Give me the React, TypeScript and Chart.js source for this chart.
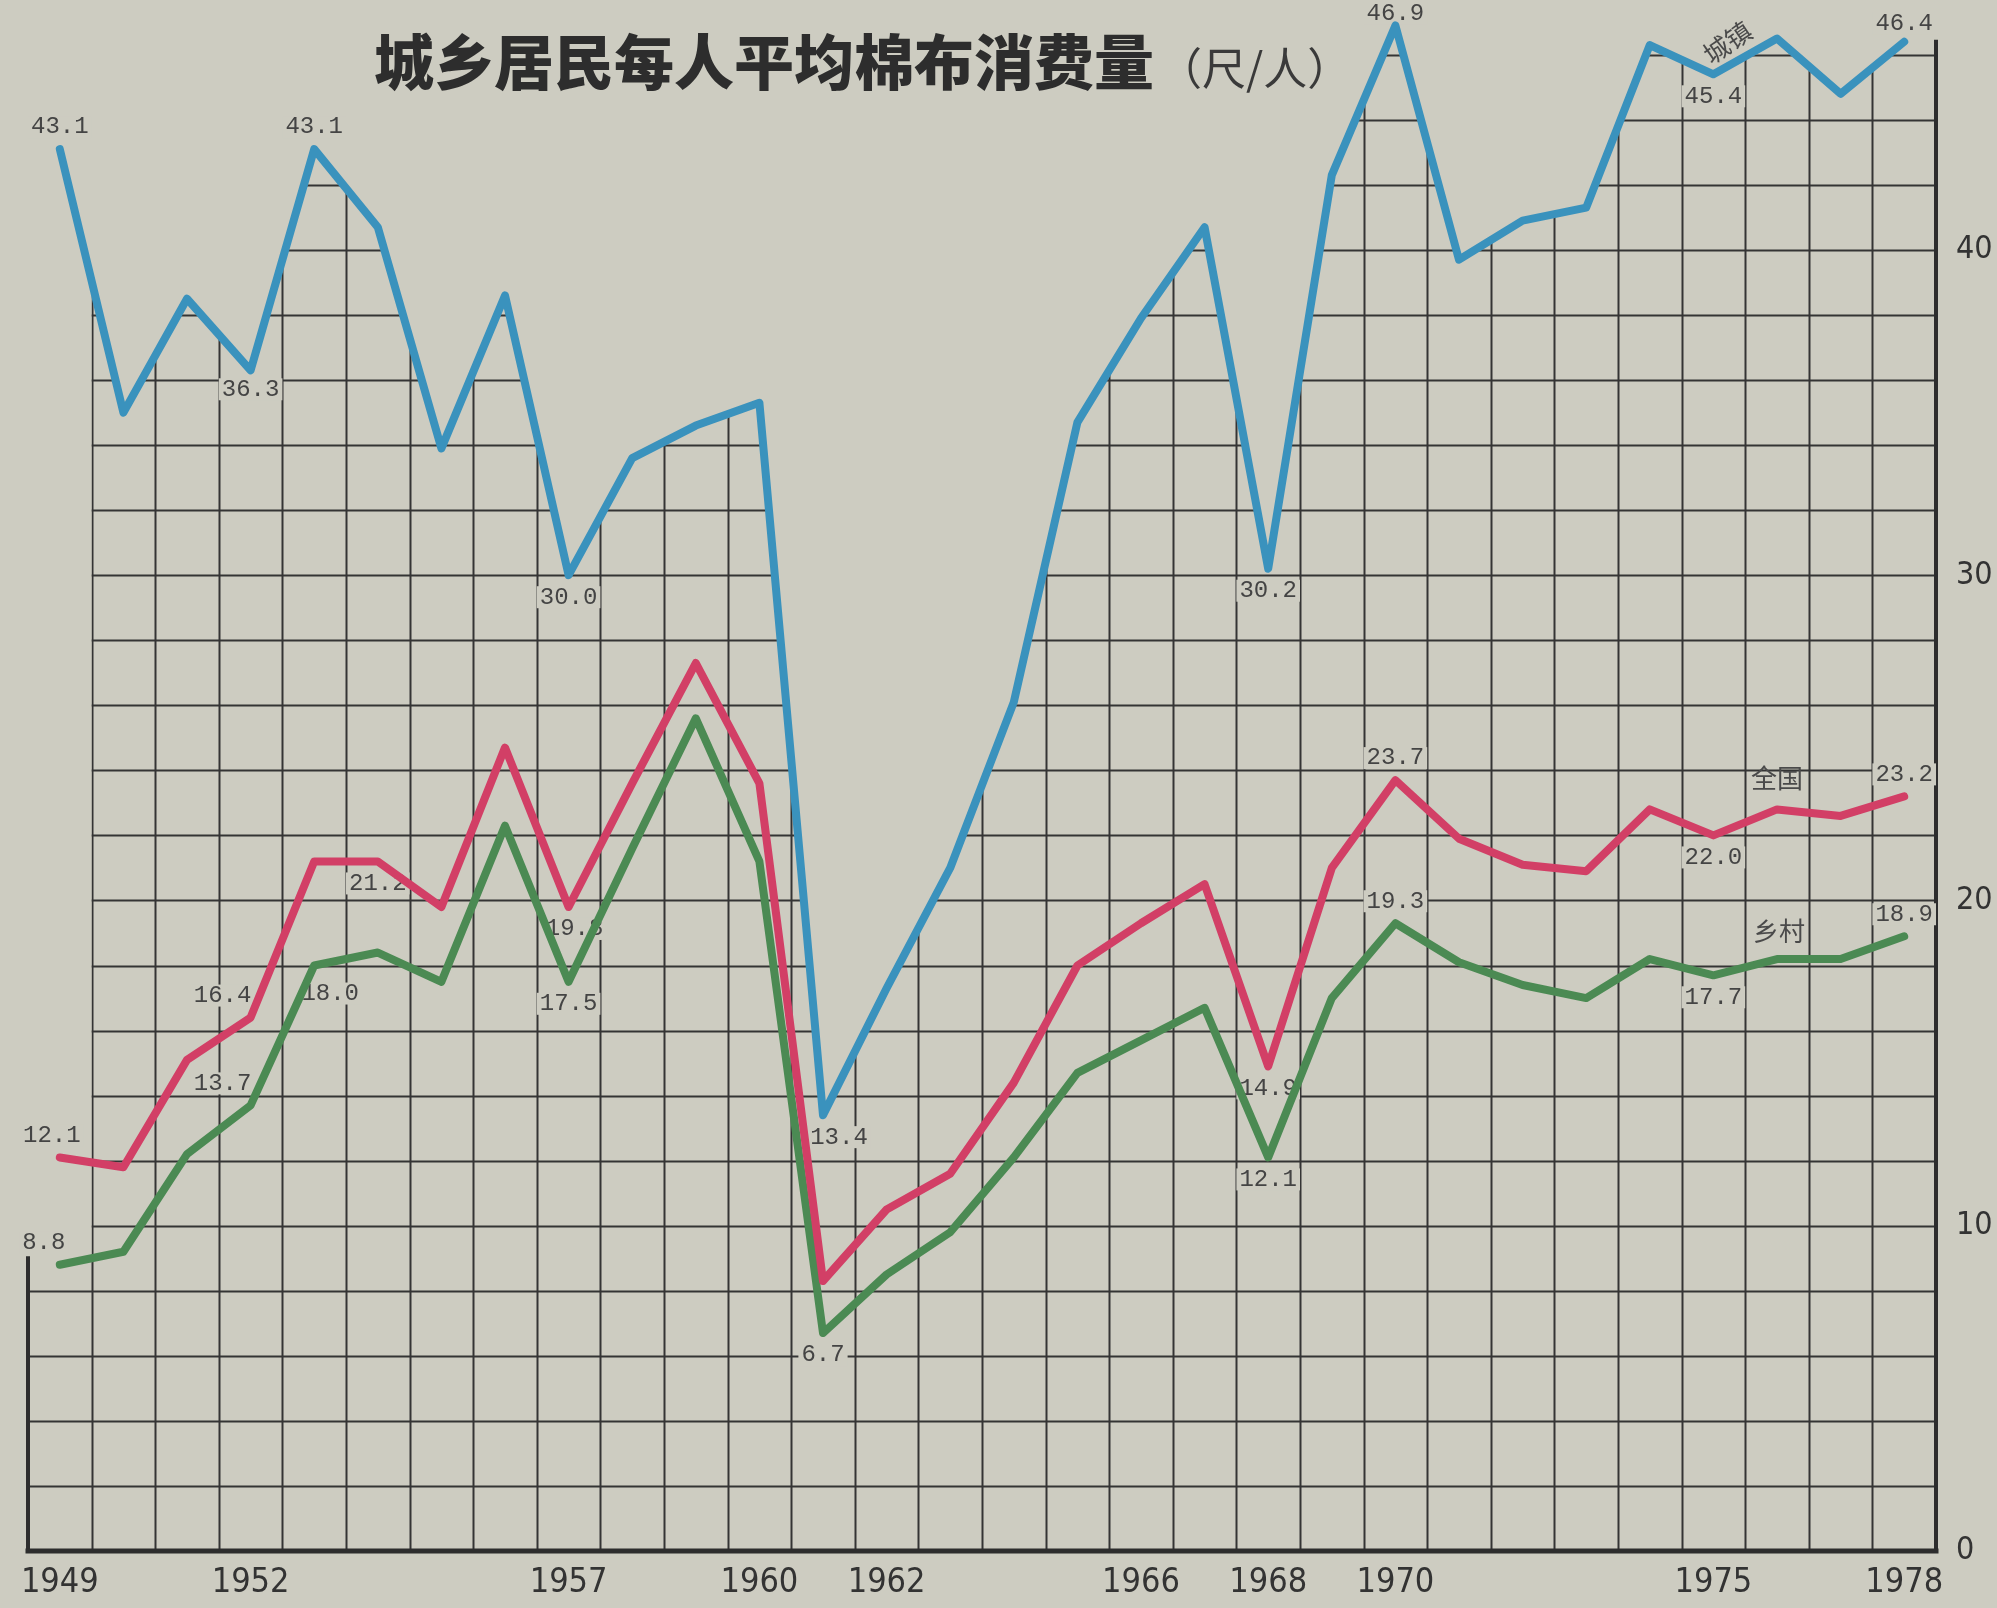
import React, { useEffect, useRef } from 'react';
import { Chart, registerables } from 'chart.js';

Chart.register(...registerables);

// ---------- data ----------
const years = [
  1949, 1950, 1951, 1952, 1953, 1954, 1955, 1956, 1957, 1958,
  1959, 1960, 1961, 1962, 1963, 1964, 1965, 1966, 1967, 1968,
  1969, 1970, 1971, 1972, 1973, 1974, 1975, 1976, 1977, 1978,
];
const tickYears = [1949, 1952, 1957, 1960, 1962, 1966, 1968, 1970, 1975, 1978];
const yTickValues = [0, 10, 20, 30, 40];

// 城镇 (urban)
const urban = [
  43.1, 35.0, 38.5, 36.3, 43.1, 40.7, 33.9, 38.6, 30.0, 33.6,
  34.6, 35.3, 13.4, 17.3, 21.0, 26.1, 34.7, 37.9, 40.7, 30.2,
  42.3, 46.9, 39.7, 40.9, 41.3, 46.3, 45.4, 46.5, 44.8, 46.4,
];
// 全国 (national)
const national = [
  12.1, 11.8, 15.1, 16.4, 21.2, 21.2, 19.8, 24.7, 19.8, 23.6,
  27.3, 23.6, 8.3, 10.5, 11.6, 14.4, 18.0, 19.3, 20.5, 14.9,
  21.0, 23.7, 21.9, 21.1, 20.9, 22.8, 22.0, 22.8, 22.6, 23.2,
];
// 乡村 (rural)
const rural = [
  8.8, 9.2, 12.2, 13.7, 18.0, 18.4, 17.5, 22.3, 17.5, 21.6,
  25.6, 21.2, 6.7, 8.5, 9.8, 12.1, 14.7, 15.7, 16.7, 12.1,
  17.0, 19.3, 18.1, 17.4, 17.0, 18.2, 17.7, 18.2, 18.2, 18.9,
];
const seriesNames = ['城镇', '全国', '乡村'];

// indices of annotated points per series
const urbanLabelIdx = [0, 3, 4, 8, 12, 19, 21, 26, 29];
const nationalLabelIdx = [0, 3, 5, 8, 19, 21, 26, 29];
const ruralLabelIdx = [0, 3, 4, 8, 12, 19, 21, 26, 29];

const titleMain = '城乡居民每人平均棉布消费量';
const titleUnit = '（尺/人）';

// ---------- style ----------
const PAPER = '#cdccc1';
const INK = '#2d2d2d';
const GRID = '#343434';
const BLUE = '#3a92bd';
const RED = '#d23f66';
const GREEN = '#4b8a53';
const NARROW = "'Liberation Sans Narrow', 'DejaVu Sans Condensed', 'Roboto Condensed', 'Liberation Sans', sans-serif";
const MONO = "'Liberation Mono', 'DejaVu Sans Mono', monospace";
const CJK = "'Noto Sans CJK SC', 'Noto Sans', sans-serif";
const Y_MAX = 47.5;
const GRID_STEP = 2;
const LEFT_AXIS_TOP = 9;

// label placement styling
const labelStyle: Record<string, { pos: 'above' | 'below'; dx?: number; dy?: number }> = {
  '0-0': { pos: 'above' },
  '0-3': { pos: 'below', dy: -3 },
  '0-4': { pos: 'above' },
  '0-8': { pos: 'below' },
  '0-12': { pos: 'below', dx: 16 },
  '0-19': { pos: 'below' },
  '0-21': { pos: 'above', dy: 10 },
  '0-26': { pos: 'below' },
  '0-29': { pos: 'above', dy: 4 },
  '1-0': { pos: 'above', dx: -8 },
  '1-3': { pos: 'above', dx: -28 },
  '1-5': { pos: 'below' },
  '1-8': { pos: 'below', dx: 6 },
  '1-19': { pos: 'below' },
  '1-21': { pos: 'above' },
  '1-26': { pos: 'below' },
  '1-29': { pos: 'above' },
  '2-0': { pos: 'above', dx: -16 },
  '2-3': { pos: 'above', dx: -28 },
  '2-4': { pos: 'below', dx: 16, dy: 6 },
  '2-8': { pos: 'below' },
  '2-12': { pos: 'below' },
  '2-19': { pos: 'below' },
  '2-21': { pos: 'above' },
  '2-26': { pos: 'below' },
  '2-29': { pos: 'above' },
};
const nameStyle = [
  { idx: 26, dx: 14, dy: -32, rot: -0.6 },
  { idx: 27, dx: 0, dy: -31, rot: 0 },
  { idx: 27, dx: 2, dy: -28, rot: 0 },
];

const allSeries = [urban, national, rural];
const allLabelIdx = [urbanLabelIdx, nationalLabelIdx, ruralLabelIdx];

const paperPlugin = {
  id: 'paper',
  beforeDraw(chart: any) {
    const { ctx, width, height } = chart;
    ctx.save();
    ctx.fillStyle = PAPER;
    ctx.fillRect(0, 0, width, height);
    ctx.restore();
  },
};

const gridPlugin = {
  id: 'clippedGrid',
  beforeDatasetsDraw(chart: any) {
    const { ctx, chartArea, scales } = chart;
    const { left, right, top, bottom } = chartArea;
    const x = scales.x;
    const y = scales.y;
    const pts = urban.map((v, i) => ({ x: x.getPixelForValue(i), y: y.getPixelForValue(v) }));
    const yLeftTop = y.getPixelForValue(LEFT_AXIS_TOP);
    const xb = (pts[0].x + pts[1].x) / 2;

    ctx.save();
    ctx.beginPath();
    ctx.moveTo(left, bottom);
    ctx.lineTo(left, yLeftTop);
    ctx.lineTo(xb, yLeftTop);
    ctx.lineTo(xb, (pts[0].y + pts[1].y) / 2);
    for (let i = 1; i < pts.length; i++) ctx.lineTo(pts[i].x, pts[i].y);
    ctx.lineTo(right, pts[pts.length - 1].y);
    ctx.lineTo(right, bottom);
    ctx.closePath();
    ctx.clip();

    ctx.strokeStyle = GRID;
    ctx.lineWidth = 2;
    ctx.beginPath();
    for (let v = GRID_STEP; v < Y_MAX; v += GRID_STEP) {
      const py = Math.round(y.getPixelForValue(v)) + 0.5;
      ctx.moveTo(left, py);
      ctx.lineTo(right, py);
    }
    for (let i = 0; i < years.length - 1; i++) {
      const px = Math.round((x.getPixelForValue(i) + x.getPixelForValue(i + 1)) / 2) + 0.5;
      ctx.moveTo(px, top);
      ctx.lineTo(px, bottom);
    }
    ctx.stroke();
    ctx.restore();

    // axes
    ctx.save();
    ctx.strokeStyle = INK;
    ctx.lineCap = 'square';
    ctx.lineWidth = 4;
    ctx.beginPath();
    ctx.moveTo(left, bottom);
    ctx.lineTo(left, yLeftTop);
    ctx.moveTo(right, bottom);
    ctx.lineTo(right, pts[pts.length - 1].y);
    ctx.stroke();
    ctx.lineWidth = 5;
    ctx.beginPath();
    ctx.moveTo(left, bottom);
    ctx.lineTo(right, bottom);
    ctx.stroke();
    ctx.restore();

    // value labels (drawn under the lines)
    ctx.save();
    ctx.font = `24px ${MONO}`;
    ctx.textAlign = 'center';
    ctx.textBaseline = 'middle';
    allSeries.forEach((data, s) => {
      allLabelIdx[s].forEach((i) => {
        const st = labelStyle[`${s}-${i}`] || { pos: 'above' };
        const px = x.getPixelForValue(i) + (st.dx || 0);
        const py = y.getPixelForValue(data[i]) + (st.pos === 'above' ? -22 : 22) + (st.dy || 0);
        const txt = data[i].toFixed(1);
        const w = ctx.measureText(txt).width;
        ctx.fillStyle = PAPER;
        ctx.fillRect(px - w / 2 - 3, py - 11, w + 6, 22);
        ctx.fillStyle = '#444444';
        ctx.fillText(txt, px, py);
      });
    });
    // series names
    ctx.font = `26px ${CJK}`;
    ctx.fillStyle = '#4a4a4a';
    allSeries.forEach((data, s) => {
      const ns = nameStyle[s];
      const px = x.getPixelForValue(ns.idx) + ns.dx;
      const py = y.getPixelForValue(data[ns.idx]) + ns.dy;
      ctx.save();
      ctx.translate(px, py);
      ctx.rotate(ns.rot);
      ctx.fillText(seriesNames[s], 0, 0);
      ctx.restore();
    });
    ctx.restore();
  },
};

const titlePlugin = {
  id: 'paperTitle',
  afterDraw(chart: any) {
    const { ctx } = chart;
    ctx.save();
    ctx.fillStyle = INK;
    ctx.textBaseline = 'middle';
    ctx.textAlign = 'left';
    ctx.font = `900 60px ${CJK}`;
    ctx.fillText(titleMain, 374, 62);
    const w = ctx.measureText(titleMain).width;
    ctx.font = `400 44px ${CJK}`;
    ctx.fillStyle = '#3a3a3a';
    ctx.fillText(titleUnit, 374 + w + 4, 68);
    ctx.restore();
  },
};

export default function App() {
  const ref = useRef<HTMLCanvasElement | null>(null);

  useEffect(() => {
    if (!ref.current) return;
    const mk = (i: number, color: string) => ({
      label: seriesNames[i],
      data: allSeries[i],
      borderColor: color,
      borderWidth: 8,
      pointRadius: 0,
      tension: 0,
      borderJoinStyle: 'round' as const,
      borderCapStyle: 'round' as const,
      fill: false,
      clip: false as const,
    });
    const chart = new Chart(ref.current, {
      type: 'line',
      data: {
        labels: years.map(String),
        datasets: [mk(0, BLUE), mk(1, RED), mk(2, GREEN)],
      },
      options: {
        responsive: false,
        maintainAspectRatio: false,
        animation: false,
        layout: { padding: { left: 28, top: 6, right: 0, bottom: 0 } },
        plugins: {
          legend: { display: false },
          tooltip: { enabled: false },
          title: { display: false },
        },
        scales: {
          x: {
            type: 'category',
            offset: true,
            grid: { display: false, offset: true },
            border: { display: false },
            ticks: {
              autoSkip: false,
              maxRotation: 0,
              minRotation: 0,
              padding: 4,
              color: '#333',
              font: { family: NARROW, size: 34 },
              callback: (_v: any, i: number) => (tickYears.includes(years[i]) ? String(years[i]) : ''),
            },
            afterFit: (s: any) => { s.height = 57; s.paddingLeft = 0; s.paddingRight = 0; },
          },
          y: {
            position: 'right',
            min: 0,
            max: Y_MAX,
            grid: { display: false },
            border: { display: false },
            ticks: {
              stepSize: 10,
              padding: 12,
              color: '#333',
              font: { family: NARROW, size: 32 },
              callback: (v: any) => (yTickValues.includes(Number(v)) ? String(v) : ''),
            },
            afterFit: (s: any) => { s.width = 61; s.paddingTop = 0; s.paddingBottom = 0; },
          },
        },
      },
      plugins: [paperPlugin, gridPlugin, titlePlugin],
    });
    return () => chart.destroy();
  }, []);

  return (
    <div style={{ position: 'fixed', left: 0, top: 0, width: 1997, height: 1608, background: PAPER }}>
      <canvas ref={ref} width={1997} height={1608} style={{ display: 'block', width: 1997, height: 1608 }} />
    </div>
  );
}
